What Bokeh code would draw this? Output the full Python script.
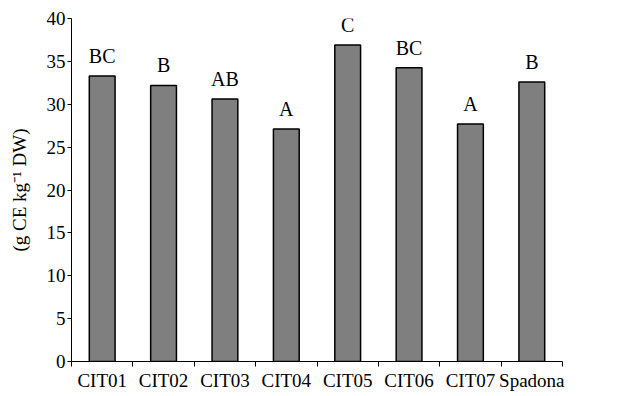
import numpy as np
from bokeh.plotting import figure
from bokeh.models import ColumnDataSource, FixedTicker, Range1d
from bokeh.core.properties import value
from bokeh.embed import file_html
from bokeh.resources import INLINE

categories = ["CIT01", "CIT02", "CIT03", "CIT04", "CIT05", "CIT06", "CIT07", "Spadona"]
values = [33.3, 32.2, 30.6, 27.1, 36.9, 34.25, 27.7, 32.6]
letters = ["BC", "B", "AB", "A", "C", "BC", "A", "B"]
y_ticks = [0, 5, 10, 15, 20, 25, 30, 35, 40]

FONT = "Liberation Serif"

xpos = np.arange(len(categories)) + 0.5
src = ColumnDataSource(dict(x=xpos, top=values, lab=letters, cat=categories))

p = figure(frame_width=491, frame_height=343, output_backend="svg", toolbar_location=None,
           x_range=Range1d(0, len(categories)), y_range=Range1d(0, 40),
           min_border_left=71, min_border_right=49, min_border_top=18, min_border_bottom=10)
p.outline_line_color = None
p.xgrid.grid_line_color = None
p.ygrid.grid_line_color = None
p.background_fill_color = "white"

p.vbar(x="x", top="top", bottom=0, width=0.42, source=src,
       fill_color="#7f7f7f", line_color="black", line_width=1.5)
p.text(x="x", y="top", text="lab", source=src, text_align="center",
       text_baseline="alphabetic", y_offset=-20,
       text_font=value(FONT), text_font_size="20px", text_color="black")

# y axis
p.yaxis.ticker = FixedTicker(ticks=y_ticks)
p.yaxis.major_tick_in = 0
p.yaxis.major_tick_out = 4
p.yaxis.minor_tick_line_color = None
p.yaxis.axis_line_color = "black"
p.yaxis.major_label_text_font = FONT
p.yaxis.major_label_text_font_size = "19px"
p.yaxis.major_label_text_color = "black"
p.yaxis.major_label_standoff = 2
p.yaxis.axis_label = "(g CE kg\u207b\u00b9 DW)"
p.yaxis.axis_label_text_font = FONT
p.yaxis.axis_label_text_font_size = "19px"
p.yaxis.axis_label_text_font_style = "normal"
p.yaxis.axis_label_text_color = "black"
p.yaxis.axis_label_standoff = 14

# x axis
p.xaxis.ticker = FixedTicker(ticks=list(xpos), minor_ticks=list(range(len(categories) + 1)))
p.xaxis.major_label_overrides = {float(x): c for x, c in zip(xpos, categories)}
p.xaxis.major_tick_line_color = None
p.xaxis.minor_tick_in = 0
p.xaxis.minor_tick_out = 5
p.xaxis.minor_tick_line_color = "black"
p.xaxis.axis_line_color = "black"
p.xaxis.major_label_text_font = FONT
p.xaxis.major_label_text_font_size = "19px"
p.xaxis.major_label_text_color = "black"
p.xaxis.major_label_standoff = 2

open("out.html", "w").write(file_html(p, INLINE))
